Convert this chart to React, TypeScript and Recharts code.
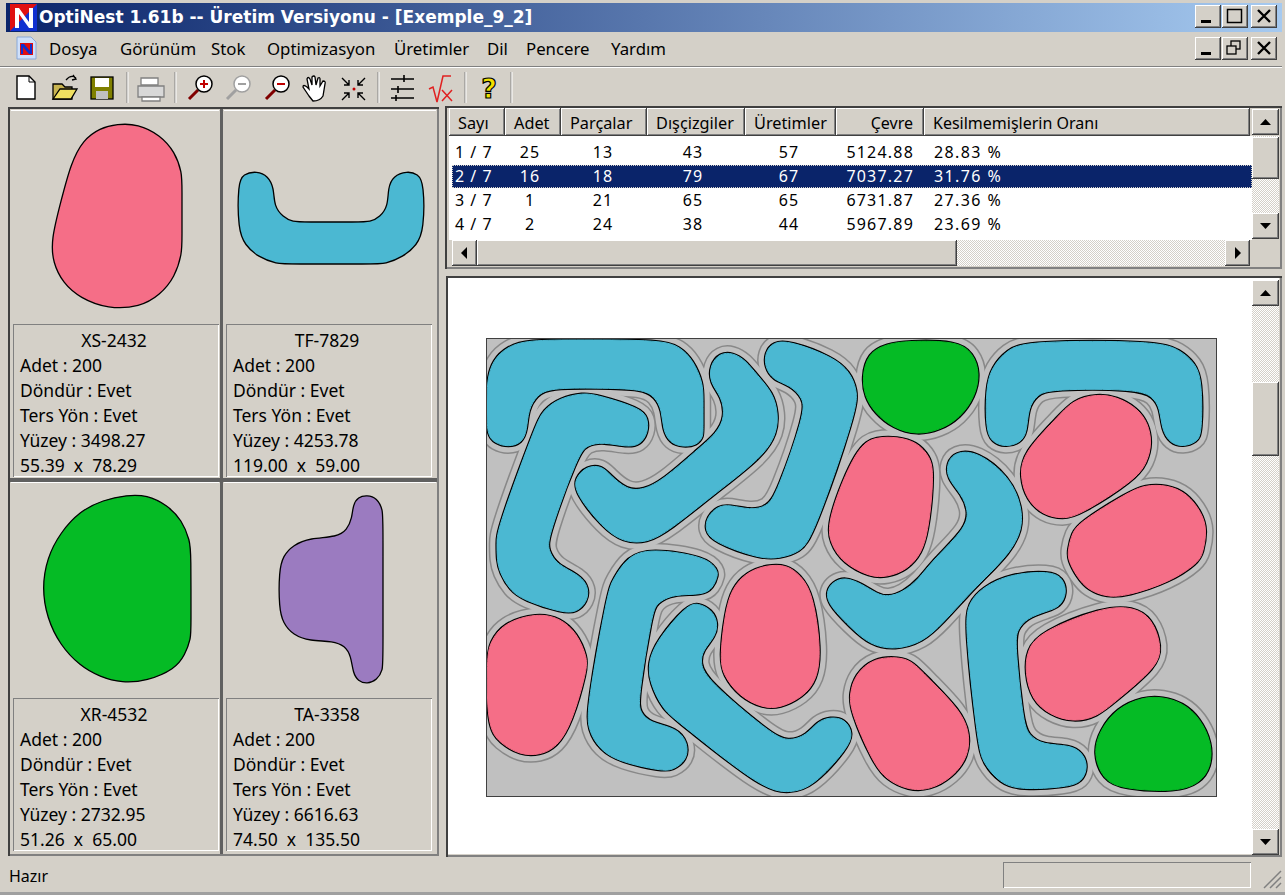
import React from 'react'
import { ScatterChart, Scatter, XAxis, YAxis } from 'recharts'

// ---------------------------------------------------------------------------
// OptiNest nesting result — parts are closed outlines drawn by Scatter series
// ---------------------------------------------------------------------------

type Pt = [number, number]

const PINK = '#f56e87'
const BLUE = '#4bb8d2'
const GREEN = '#05bb25'
const PURPLE = '#9b7bc0'
const FACE = '#d4d0c8'
const FONT = '"Noto Sans", sans-serif'

const menuItems: [string, number][] = [
  ['Dosya', 49], ['Görünüm', 120], ['Stok', 211], ['Optimizasyon', 267],
  ['Üretimler', 394], ['Dil', 487], ['Pencere', 526], ['Yardım', 611],
]

const tableHeaders: [string, number, number][] = [
  ['Sayı', 449, 56], ['Adet', 505, 56], ['Parçalar', 561, 86], ['Dışçizgiler', 647, 98],
  ['Üretimler', 745, 91], ['Çevre', 836, 88], ['Kesilmemişlerin Oranı', 924, 326],
]
const sayi = ['1 / 7', '2 / 7', '3 / 7', '4 / 7']
const adet = ['25', '16', '1', '2']
const parcalar = ['13', '18', '21', '24']
const discizgiler = ['43', '79', '65', '38']
const uretimler = ['57', '67', '65', '44']
const cevre = ['5124.88', '7037.27', '6731.87', '5967.89']
const oran = ['28.83 %', '31.76 %', '27.36 %', '23.69 %']

// part previews (panel pixels)
const xsOutline: Pt[] = [[40, 129], [50, 90], [60, 52], [72, 29], [89, 17], [106, 13], [127, 13], [149, 24], [164, 41], [171, 62], [171, 75], [171, 130], [171, 142], [164, 166], [149, 184], [129, 196], [97, 198], [69, 187], [52, 172], [42, 152]]
const tfOutline: Pt[] = [[14, 72], [19, 63], [33, 60], [44, 65], [50, 77], [50, 95], [59, 106], [69, 111], [80, 111], [135, 111], [146, 111], [156, 106], [164, 95], [164, 77], [169, 65], [183, 60], [194, 63], [200, 72], [200, 119], [193, 134], [179, 146], [161, 153], [150, 153], [65, 153], [53, 153], [34, 146], [21, 134], [14, 119]]
const xrOutline: Pt[] = [[31, 105], [36, 75], [49, 50], [69, 28], [92, 17], [116, 12], [136, 12], [156, 22], [171, 37], [179, 58], [180, 70], [180, 145], [180, 155], [174, 172], [164, 186], [136, 198], [111, 200], [89, 194], [69, 183], [49, 162], [36, 135]]
const taOutline: Pt[] = [[55, 88], [59, 73], [69, 62], [86, 55], [113, 54], [123, 47], [128, 35], [129, 22], [134, 14], [143, 12], [153, 15], [159, 27], [159, 40], [159, 175], [159, 187], [153, 197], [143, 201], [134, 198], [129, 190], [127, 173], [121, 163], [109, 158], [86, 158], [69, 152], [59, 140], [55, 125]]

const previews = [
  { name: 'XS-2432', outline: xsOutline, color: PINK, surface: '3498.27', size: '55.39  x  78.29' },
  { name: 'TF-7829', outline: tfOutline, color: BLUE, surface: '4253.78', size: '119.00  x  59.00' },
  { name: 'XR-4532', outline: xrOutline, color: GREEN, surface: '2732.95', size: '51.26  x  65.00' },
  { name: 'TA-3358', outline: taOutline, color: PURPLE, surface: '6616.63', size: '74.50  x  135.50' },
]

// nested parts on the sheet (sheet pixels)
const partA: Pt[] = [[0, 41], [6, 21], [20, 8], [40, 1], [93, 1], [175, 1], [193, 8], [206, 21], [216, 44], [216, 60], [216, 90], [216, 98], [210, 106], [196, 108], [183, 104], [176, 91], [175, 71], [168, 58], [156, 50], [110, 49], [63, 49], [50, 56], [41, 71], [40, 91], [35, 104], [21, 108], [8, 104], [0, 96], [0, 68]]
const partB: Pt[] = [[96, 54], [110, 56], [153, 69], [161, 79], [161, 94], [153, 106], [140, 108], [116, 103], [100, 106], [91, 116], [61, 198], [61, 211], [70, 226], [93, 236], [102, 249], [100, 263], [90, 273], [76, 274], [36, 261], [23, 251], [13, 234], [10, 221], [10, 204], [10, 191], [48, 88], [56, 71], [73, 59]]
const partC: Pt[] = [[223, 26], [233, 14], [246, 14], [258, 21], [270, 36], [286, 54], [291, 74], [290, 94], [276, 118], [226, 156], [183, 191], [160, 204], [136, 203], [116, 189], [88, 154], [88, 139], [100, 127], [115, 127], [123, 136], [140, 151], [156, 151], [176, 141], [210, 111], [230, 94], [238, 78], [235, 58], [223, 44]]
const partD: Pt[] = [[278, 14], [286, 3], [303, 2], [346, 18], [363, 33], [370, 51], [370, 71], [326, 198], [313, 213], [293, 219], [273, 220], [226, 203], [218, 191], [220, 178], [231, 167], [243, 166], [263, 171], [280, 168], [290, 154], [318, 74], [316, 59], [303, 46], [286, 41], [278, 28]]
const partE: Pt[] = [[375, 38], [381, 14], [400, 5], [420, 2], [470, 2], [486, 14], [493, 34], [488, 58], [473, 79], [453, 91], [430, 96], [406, 89], [388, 74], [378, 58]]
const partF: Pt[] = [[499, 48], [505, 28], [520, 11], [540, 2], [671, 2], [693, 11], [708, 24], [715, 41], [715, 94], [710, 103], [696, 108], [683, 104], [675, 91], [673, 69], [666, 58], [651, 50], [563, 50], [550, 56], [541, 69], [540, 94], [533, 104], [518, 108], [505, 103], [499, 91]]
const partG: Pt[] = [[533, 138], [536, 114], [570, 79], [586, 61], [610, 55], [630, 58], [650, 69], [661, 84], [665, 104], [660, 124], [648, 141], [593, 176], [576, 180], [556, 176], [540, 161]]
const partH: Pt[] = [[658, 146], [680, 146], [700, 154], [715, 174], [720, 191], [716, 214], [711, 224], [683, 243], [640, 257], [620, 258], [601, 251], [590, 238], [581, 221], [581, 211], [585, 194], [593, 183], [640, 154]]
const partI: Pt[] = [[446, 131], [443, 118], [430, 103], [410, 98], [390, 98], [370, 106], [340, 181], [343, 204], [356, 224], [383, 238], [400, 238], [420, 231], [435, 214], [441, 191], [445, 158]]
const partJ: Pt[] = [[460, 124], [468, 113], [490, 112], [523, 138], [535, 168], [535, 191], [523, 214], [496, 241], [483, 254], [456, 284], [436, 303], [408, 311], [383, 306], [363, 288], [340, 264], [340, 251], [346, 243], [358, 238], [375, 245], [390, 255], [401, 258], [416, 253], [431, 241], [446, 221], [480, 188], [481, 171], [475, 156], [460, 139]]
const partK: Pt[] = [[0, 318], [3, 304], [16, 284], [50, 274], [73, 279], [90, 294], [100, 318], [100, 331], [85, 384], [70, 408], [53, 416], [33, 416], [13, 404], [0, 388]]
const partL: Pt[] = [[126, 241], [140, 218], [163, 209], [220, 218], [230, 231], [231, 236], [226, 249], [216, 256], [186, 255], [170, 264], [165, 274], [151, 361], [153, 373], [163, 384], [190, 389], [201, 404], [200, 421], [186, 431], [175, 432], [133, 423], [113, 411], [101, 391], [100, 368], [121, 251]]
const partM: Pt[] = [[200, 266], [211, 264], [225, 271], [231, 284], [228, 298], [216, 311], [213, 324], [220, 341], [283, 394], [301, 403], [320, 396], [330, 383], [343, 378], [358, 380], [366, 394], [361, 409], [326, 448], [303, 454], [276, 451], [193, 384], [176, 371], [163, 344], [161, 324], [170, 301]]
const partN: Pt[] = [[233, 318], [238, 274], [245, 249], [260, 233], [280, 226], [300, 226], [313, 236], [326, 254], [334, 311], [330, 341], [316, 358], [293, 369], [276, 369], [253, 358], [236, 336]]
const partO: Pt[] = [[363, 354], [368, 336], [386, 319], [413, 318], [426, 323], [443, 341], [473, 371], [483, 394], [481, 418], [466, 438], [443, 451], [421, 451], [400, 441], [386, 424], [363, 371]]
const partP: Pt[] = [[478, 288], [481, 264], [496, 248], [523, 235], [563, 232], [576, 239], [580, 254], [573, 268], [560, 272], [540, 279], [530, 291], [528, 304], [536, 381], [541, 396], [556, 406], [583, 406], [596, 414], [601, 428], [595, 443], [580, 448], [533, 451], [513, 444], [496, 424], [491, 406]]
const partQ: Pt[] = [[538, 334], [540, 311], [553, 293], [616, 268], [646, 268], [665, 279], [675, 308], [670, 328], [630, 361], [610, 378], [586, 383], [563, 376], [545, 361]]
const partR: Pt[] = [[606, 414], [613, 391], [630, 369], [656, 358], [676, 358], [696, 364], [713, 379], [725, 404], [724, 428], [713, 444], [690, 453], [636, 450], [616, 441]]

const sheetParts: { outline: Pt[]; color: string }[] = [
  { outline: partA, color: BLUE }, { outline: partB, color: BLUE }, { outline: partC, color: BLUE },
  { outline: partD, color: BLUE }, { outline: partE, color: GREEN }, { outline: partF, color: BLUE },
  { outline: partG, color: PINK }, { outline: partH, color: PINK }, { outline: partI, color: PINK },
  { outline: partJ, color: BLUE }, { outline: partK, color: PINK }, { outline: partL, color: BLUE },
  { outline: partM, color: BLUE }, { outline: partN, color: PINK }, { outline: partO, color: PINK },
  { outline: partP, color: BLUE }, { outline: partQ, color: PINK }, { outline: partR, color: GREEN },
]

const toRows = (pts: Pt[]) => pts.map(([x, y]) => ({ x, y }))
const noDot = () => <g />

function Outline(key: string, pts: Pt[], line: Record<string, unknown>) {
  return (
    <Scatter
      key={key}
      data={toRows(pts)}
      line={line}
      lineJointType="basisClosed"
      shape={noDot}
      isAnimationActive={false}
    />
  )
}

function PartChart({ width, height, children }: { width: number; height: number; children: React.ReactNode }) {
  return (
    <ScatterChart width={width} height={height} margin={{ top: 0, right: 0, bottom: 0, left: 0 }}>
      <XAxis type="number" dataKey="x" domain={[0, width]} hide allowDataOverflow />
      <YAxis type="number" dataKey="y" domain={[0, height]} reversed hide allowDataOverflow />
      {children}
    </ScatterChart>
  )
}

const box = (left: number, top: number, width: number, height: number, extra: React.CSSProperties = {}): React.CSSProperties => ({
  position: 'absolute', left, top, width, height, boxSizing: 'border-box', ...extra,
})
const RAISED = 'inset -1px -1px #404040, inset 1px 1px #fff, inset -2px -2px #808080'
const SUNKEN = 'inset 1px 1px #808080, inset -1px -1px #fff'
const FRAME = 'inset 2px 2px #404040, inset -2px -2px #808080, inset -3px -3px #d4d0c8'
const DITHER: React.CSSProperties = {
  backgroundImage: 'conic-gradient(#d4d0c8 25%, #fff 0 50%, #d4d0c8 0 75%, #fff 0)',
  backgroundSize: '2px 2px',
}

function Txt({ x, y, children, color = '#000', size = 16, weight = 400, align = 'left', spacing = 0, family = FONT }: {
  x: number; y: number; children: React.ReactNode; color?: string; size?: number; weight?: number; align?: 'left' | 'center' | 'right'; spacing?: number; family?: string
}) {
  const pos: React.CSSProperties = align === 'left' ? { left: x } : align === 'center' ? { left: x - 100, width: 200 } : { left: x - 200, width: 200 }
  return (
    <div style={{ position: 'absolute', top: y - 12, height: 24, lineHeight: '24px', whiteSpace: 'pre', fontFamily: family, fontSize: size, fontWeight: weight, letterSpacing: spacing, color, textAlign: align, ...pos }}>
      {children}
    </div>
  )
}

function Btn({ x, y, w, h, children }: { x: number; y: number; w: number; h: number; children?: React.ReactNode }) {
  return (
    <div style={box(x, y, w, h, { background: FACE, boxShadow: RAISED })}>
      <svg width={w} height={h} style={{ position: 'absolute', left: 0, top: 0 }}>{children}</svg>
    </div>
  )
}

const Tri = ({ d }: { d: string }) => <path d={d} fill="#000" />

function Caption({ x, y, kind }: { x: number; y: number; kind: 'min' | 'max' | 'restore' | 'close' }) {
  return (
    <Btn x={x} y={y} w={26} h={23}>
      {kind === 'min' && <rect x={6} y={15} width={10} height={3} fill="#000" />}
      {kind === 'max' && <rect x={5.5} y={4.5} width={14} height={13} fill="none" stroke="#000" strokeWidth={1.5} />}
      {kind === 'restore' && (
        <g fill="none" stroke="#000" strokeWidth={1.3}>
          <rect x={9} y={4} width={9} height={8} />
          <rect x={5} y={9} width={9} height={8} fill={FACE} />
        </g>
      )}
      {kind === 'close' && <path d="M7 5 L19 17 M19 5 L7 17" stroke="#000" strokeWidth={2.4} />}
    </Btn>
  )
}

function Toolbar() {
  return (
    <svg width={520} height={36} style={{ position: 'absolute', left: 0, top: 69 }}>
      {[127, 175, 378, 465, 511].map((x) => (
        <g key={x}>
          <line x1={x} x2={x} y1={3} y2={34} stroke="#808080" />
          <line x1={x + 1} x2={x + 1} y1={3} y2={34} stroke="#fff" />
        </g>
      ))}
      <path d="M17 7 H29 L35 13 V30 H17 Z" fill="#fff" stroke="#000" strokeWidth={1.4} />
      <path d="M29 7 V13 H35" fill="none" stroke="#000" />
      <path d="M53 30 V15 H62 L65 18 H72 V30 Z" fill="#c8b450" stroke="#000" strokeWidth={1.3} />
      <path d="M53 30 L60 20 H77 L71 30 Z" fill="#f0e060" stroke="#000" strokeWidth={1.3} />
      <path d="M66 11 Q71 5 76 9 M73 6 L76 10 L72 11" fill="none" stroke="#000" strokeWidth={1.3} />
      <rect x={91} y={8} width={22} height={22} fill="#808000" stroke="#000" strokeWidth={1.3} />
      <rect x={95} y={9} width={14} height={9} fill="#fff" />
      <rect x={96} y={22} width={12} height={8} fill="#c0c0c0" />
      <g fill="#d8d8d8" stroke="#808080" strokeWidth={1.3}>
        <path d="M141 9 H158 V16 H141 Z" fill="#fff" />
        <path d="M138 17 H164 V28 H138 Z" />
        <path d="M142 28 H160 V32 H142 Z" fill="#fff" />
      </g>
      {[
        { x: 204, c: '#000', i: '#c00000', plus: true },
        { x: 242, c: '#a0a0a0', i: '#a0a0a0', plus: false },
        { x: 281, c: '#000', i: '#c00000', plus: false },
      ].map((m) => (
        <g key={m.x}>
          <line x1={m.x - 15} y1={30} x2={m.x - 6} y2={21} stroke={m.c === '#000' ? '#800000' : m.c} strokeWidth={3} />
          <circle cx={m.x} cy={15} r={8} fill="#fff" stroke={m.c} strokeWidth={1.5} />
          <path d={m.plus ? `M${m.x - 4} 15 H${m.x + 4} M${m.x} 11 V19` : `M${m.x - 4} 15 H${m.x + 4}`} stroke={m.i} strokeWidth={2} />
        </g>
      ))}
      <path d="M309 27 L303 18 Q303 15 307 18 L309 20 L307 10 Q308 7 310 10 L312 16 L312 8 Q314 6 315 8 L316 16 L318 9 Q320 8 320 10 L320 17 L323 12 Q326 12 325 15 L323 27 Q320 32 313 32 Z" fill="#fff" stroke="#000" strokeWidth={1.3} />
      <g stroke="#000" strokeWidth={1.4} fill="none">
        <path d="M342 9 L349 16 M349 11 V16 H344 M365 9 L358 16 M358 11 V16 H363 M342 31 L349 24 M349 29 V24 H344 M365 31 L358 24 M358 29 V24 H363" />
      </g>
      <circle cx={354} cy={20} r={1.5} fill="#c00000" />
      <path d="M391 10 H414 M391 20 H414 M391 29 H414 M404 6 V13 M398 17 V24 M396 26 V32" stroke="#000" strokeWidth={1.6} />
      <path d="M429 20 L433 18 L437 33 L443 7 H451" fill="none" stroke="#e02020" strokeWidth={1.5} />
      <path d="M442 21 L452 32 M452 21 L442 32" stroke="#e02020" strokeWidth={1.5} />
      <text x={489} y={29} textAnchor="middle" fontFamily="DejaVu Sans" fontWeight={700} fontSize={27} fill="#f0e000" stroke="#000" strokeWidth={1.2}>?</text>
    </svg>
  )
}

function PreviewPanel({ p, x, y, h }: { p: (typeof previews)[number]; x: number; y: number; h: number }) {
  const infoTop = y + h
  return (
    <>
      <div style={box(x, y, 208, 212)}>
        <PartChart width={208} height={212}>
          {Outline('part', p.outline, { fill: p.color, stroke: '#000', strokeWidth: 1.3 })}
        </PartChart>
      </div>
      <div style={box(x + 2, infoTop, 206, 153, { boxShadow: SUNKEN })} />
      <Txt x={x + 103} y={infoTop + 16} align="center" size={17.5}>{p.name}</Txt>
      <Txt x={x + 9} y={infoTop + 41} size={17.5}>Adet : 200</Txt>
      <Txt x={x + 9} y={infoTop + 66} size={17.5}>Döndür : Evet</Txt>
      <Txt x={x + 9} y={infoTop + 91} size={17.5}>Ters Yön : Evet</Txt>
      <Txt x={x + 9} y={infoTop + 116} size={17.5}>Yüzey : {p.surface}</Txt>
      <Txt x={x + 9} y={infoTop + 141} size={17.5}>{p.size}</Txt>
    </>
  )
}

export default function App() {
  return (
    <div style={box(0, 0, 1285, 895, { background: FACE, overflow: 'hidden' })}>
      {/* title bar */}
      <div style={box(6, 3, 1276, 29, { background: 'linear-gradient(90deg,#0a246a,#a6caf0)' })} />
      <svg width={27} height={27} style={{ position: 'absolute', left: 10, top: 4 }}>
        <rect width={27} height={27} fill="#e01010" />
        <path d="M0 27 L27 0 V27 Z" fill="#1030d0" />
        <path d="M5 24 V4 H9 L19 18 V4 H23 V24 H19 L9 10 V24 Z" fill="#fff" />
      </svg>
      <Txt x={39} y={17} color="#fff" size={17} weight={700} family='"DejaVu Sans", sans-serif'>OptiNest 1.61b -- Üretim Versiyonu - [Exemple_9_2]</Txt>
      <Caption x={1195} y={5} kind="min" />
      <Caption x={1222} y={5} kind="max" />
      <Caption x={1251} y={5} kind="close" />

      {/* menu */}
      <svg width={22} height={24} style={{ position: 'absolute', left: 16, top: 36 }}>
        <path d="M1 1 H15 L20 6 V23 H1 Z" fill="#cfe0fa" stroke="#8aa8d8" />
        <rect x={4} y={7} width={13} height={12} fill="#e01010" />
        <path d="M5 18 V8 H8 L14 15 V8 H16 V18 H13 L7 11 V18 Z" fill="#1030d0" />
      </svg>
      {menuItems.map(([label, x]) => <Txt key={label} x={x} y={49} size={16.8}>{label}</Txt>)}
      <Caption x={1195} y={37} kind="min" />
      <Caption x={1222} y={37} kind="restore" />
      <Caption x={1251} y={37} kind="close" />
      <div style={box(0, 66, 1282, 1, { background: '#808080' })} />
      <div style={box(0, 67, 1282, 1, { background: '#fff' })} />
      <Toolbar />

      {/* part previews */}
      <div style={box(8, 107, 431, 749, { boxShadow: FRAME })} />
      <div style={box(220, 109, 3, 745, { background: '#606060' })} />
      <div style={box(10, 478, 427, 4, { background: '#606060' })} />
      <div style={box(11, 110, 208, 1, { background: '#fff' })} />
      <div style={box(224, 110, 212, 1, { background: '#fff' })} />
      <div style={box(11, 482, 208, 1, { background: '#fff' })} />
      <div style={box(224, 482, 212, 1, { background: '#fff' })} />
      <PreviewPanel p={previews[0]} x={11} y={111} h={213} />
      <PreviewPanel p={previews[1]} x={224} y={111} h={213} />
      <PreviewPanel p={previews[2]} x={11} y={483} h={215} />
      <PreviewPanel p={previews[3]} x={224} y={483} h={215} />

      {/* results table */}
      <div style={box(445, 106, 837, 163, { boxShadow: FRAME })} />
      {tableHeaders.map(([label, x, w]) => (
        <div key={label} style={box(x, 108, w, 28, { boxShadow: RAISED, background: FACE })} />
      ))}
      {tableHeaders.slice(0, 5).map(([label, x]) => <Txt key={label} x={x + 9} y={123} size={16.3}>{label}</Txt>)}
      <Txt x={913} y={123} align="right">Çevre</Txt>
      <Txt x={933} y={123}>Kesilmemişlerin Oranı</Txt>
      <div style={box(449, 136, 803, 104, { background: '#fff' })} />
      <div style={box(452, 165, 800, 23, { background: '#0a246a', outline: '1px dotted #d4d0c8', outlineOffset: -1 })} />
      {sayi.map((s, i) => {
        const y = 152 + i * 24
        const c = i === 1 ? '#fff' : '#000'
        return (
          <React.Fragment key={s}>
            <Txt x={455} y={y} color={c} spacing={1}>{s}</Txt>
            <Txt x={530} y={y} color={c} align="center" spacing={1}>{adet[i]}</Txt>
            <Txt x={603} y={y} color={c} align="center" spacing={1}>{parcalar[i]}</Txt>
            <Txt x={693} y={y} color={c} align="center" spacing={1}>{discizgiler[i]}</Txt>
            <Txt x={789} y={y} color={c} align="center" spacing={1}>{uretimler[i]}</Txt>
            <Txt x={914} y={y} color={c} align="right" spacing={1.2}>{cevre[i]}</Txt>
            <Txt x={934} y={y} color={c} spacing={1.4}>{oran[i]}</Txt>
          </React.Fragment>
        )
      })}
      <div style={box(1252, 136, 27, 78, DITHER)} />
      <Btn x={1252} y={109} w={27} h={26}><Tri d="M8 16 H19 L13.5 10 Z" /></Btn>
      <Btn x={1252} y={137} w={27} h={42} />
      <Btn x={1252} y={213} w={27} h={26}><Tri d="M8 10 H19 L13.5 16 Z" /></Btn>
      <div style={box(477, 240, 748, 26, DITHER)} />
      <Btn x={452} y={240} w={25} h={26}><Tri d="M15 7 V19 L9 13 Z" /></Btn>
      <Btn x={477} y={240} w={480} h={26} />
      <Btn x={1225} y={240} w={25} h={26}><Tri d="M10 7 V19 L16 13 Z" /></Btn>

      {/* nesting sheet */}
      <div style={box(446, 276, 836, 581, { boxShadow: FRAME, background: '#fff' })} />
      <div style={box(1252, 306, 27, 524, DITHER)} />
      <Btn x={1252} y={280} w={27} h={26}><Tri d="M8 16 H19 L13.5 10 Z" /></Btn>
      <Btn x={1252} y={382} w={27} h={74} />
      <Btn x={1252} y={829} w={27} h={26}><Tri d="M8 10 H19 L13.5 16 Z" /></Btn>
      <div style={box(486, 338, 731, 459, { border: '1px solid #404040', background: '#c0c0c0' })}>
        <PartChart width={729} height={457}>
          {sheetParts.map((p, i) => Outline(`halo-${i}`, p.outline, { fill: 'none', stroke: '#888888', strokeWidth: 16.5 }))}
          {sheetParts.map((p, i) => Outline(`gap-${i}`, p.outline, { fill: '#c0c0c0', stroke: '#c0c0c0', strokeWidth: 13.5 }))}
          {sheetParts.map((p, i) => Outline(`edge-${i}`, p.outline, { fill: '#000', stroke: '#000', strokeWidth: 3.2 }))}
          {sheetParts.map((p, i) => Outline(`part-${i}`, p.outline, { fill: p.color, stroke: p.color, strokeWidth: 1 }))}
        </PartChart>
      </div>

      {/* status bar */}
      <Txt x={9} y={876}>Hazır</Txt>
      <div style={box(1003, 862, 248, 26, { boxShadow: SUNKEN })} />
      <svg width={20} height={20} style={{ position: 'absolute', left: 1262, top: 869 }}>
        <path d="M2 19 L19 2 M8 19 L19 8 M14 19 L19 14" stroke="#808080" strokeWidth={1.5} />
      </svg>
      <div style={box(0, 892, 1285, 3, { background: '#a0a0a0' })} />
    </div>
  )
}
